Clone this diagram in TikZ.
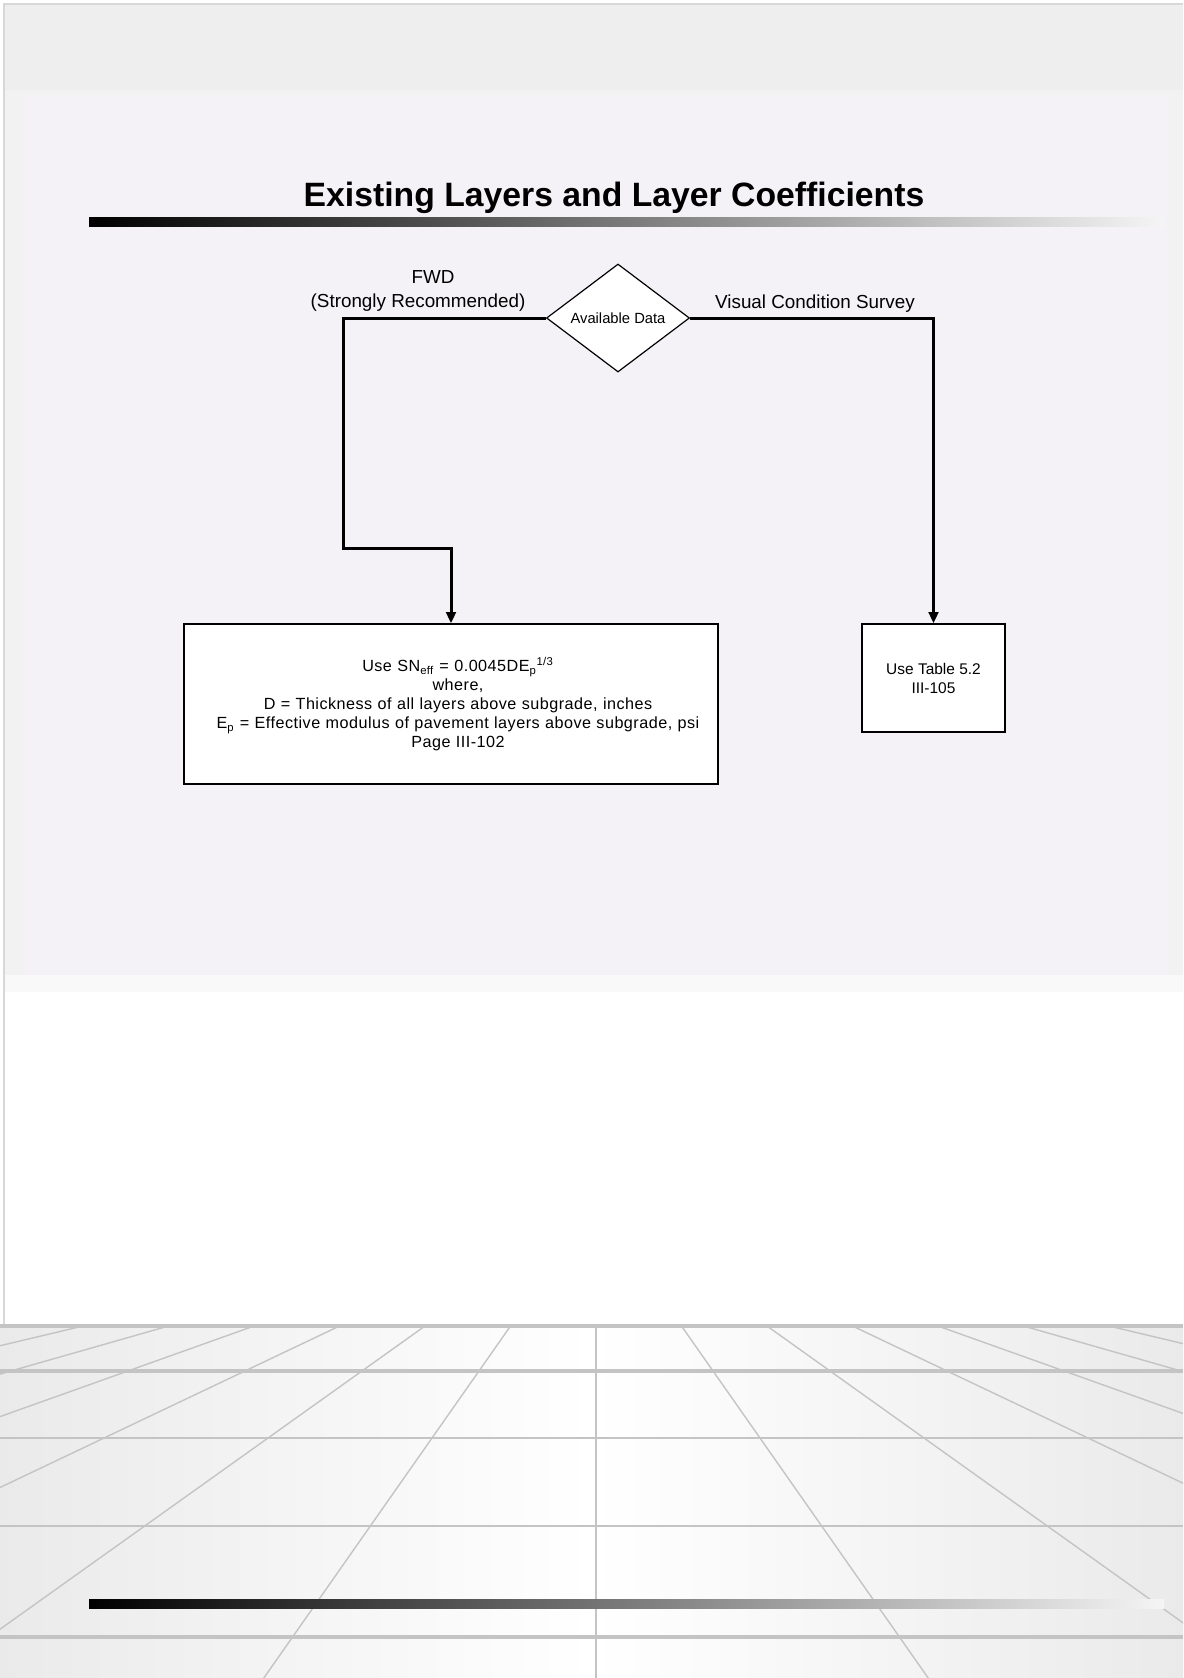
\documentclass[tikz,border=0pt]{standalone}
\usepackage{fontspec}
\setmainfont{Liberation Sans}
\usetikzlibrary{shapes.geometric,arrows.meta}

\definecolor{bandgray}{HTML}{EEEEEE}
\definecolor{edgegray}{HTML}{F2F2F2}
\definecolor{slidepink}{HTML}{F5F2F7}
\definecolor{fadepink}{HTML}{FAF9FA}
\definecolor{framegray}{HTML}{D8D8D8}
\definecolor{gridgray}{HTML}{C4C4C4}
\definecolor{floorgray}{HTML}{EAEAEA}

\tikzset{
  flowline/.style={line width=0.75mm, -{Triangle[length=2.8mm,width=2.4mm]}},
  procbox/.style={draw, fill=white, line width=0.35mm, inner sep=0pt},
  decision/.style={diamond, draw, fill=white, line width=0.3mm, inner sep=0pt,
    minimum width=35.75mm, minimum height=27mm, font=\fontsize{10.5}{12}\selectfont},
  lbl/.style={font=\fontsize{13.4}{16}\selectfont, inner sep=0pt},
  gridline/.style={gridgray, line width=0.35mm},
  rulebar/.style={left color=black, right color=white!96!black}
}

\begin{document}
\begin{tikzpicture}[x=0.25mm,y=-0.25mm]
    \useasboundingbox (0,0) rectangle (1183,1678);

    % Slide background
    \fill[white] (0,0) rectangle (1183,1678);
    \fill[bandgray] (5,5) rectangle (1183,90);
    \fill[edgegray] (5,90) rectangle (1183,975);
    \fill[slidepink] (24,97) rectangle (1167,975);
    \fill[fadepink] (5,975) rectangle (1183,992);
    \draw[framegray, line width=0.4mm] (4,1326) -- (4,4) -- (1183,4);

    % Tiled floor
    \shade[left color=floorgray, right color=floorgray, middle color=white] (0,1326) rectangle (1183,1678);
    \begin{scope}
      \clip (0,1326) rectangle (1183,1678);
      \foreach \k in {-8,...,8}
        \draw[gridline] ({596+\k*85.5},1326) -- ({596+\k*332.2},1678);
    \end{scope}
    \foreach \y/\w in {1326/0.8mm, 1371/0.8mm, 1438/0.5mm, 1526/0.5mm, 1637/0.8mm}
      \draw[gridgray, line width=\w] (0,\y) -- (1183,\y);

    % Title and rules
    \node[font=\fontsize{24}{28}\selectfont\bfseries, anchor=base, inner sep=0pt] (title) at (614,206) {Existing Layers and Layer Coefficients};
    \shade[rulebar] (89,217) rectangle (1164,226);
    \shade[rulebar] (89,1599) rectangle (1164,1608);

    % Decision and branch labels
    \node[decision] (avail) at (618,318) {Available Data};
    \node[lbl] (fwdlbl) at (433,277) {FWD};
    \node[lbl] (fwdnote) at (418,303) {(Strongly Recommended)};
    \node[lbl] (vcslbl) at (815,304) {Visual Condition Survey};

    % Result boxes
    \node[procbox, minimum width=133.5mm, minimum height=40mm] (effbox) at (451,704) {};
    \node[font=\fontsize{11.5}{13.5}\selectfont\addfontfeatures{LetterSpace=3}, align=center, text width=125mm, inner sep=0pt] (efftext) at (458,704) {%
Use SN\textsubscript{eff} = 0.0045DE\textsubscript{p}\textsuperscript{1/3}\\
where,\\
D = Thickness of all layers above subgrade, inches\\
E\textsubscript{p} = Effective modulus of pavement layers above subgrade, psi\\
Page III-102};
    \node[procbox, minimum width=35.75mm, minimum height=27mm, font=\fontsize{11}{13.5}\selectfont, align=center] (tblbox) at (933.5,678) {Use Table 5.2\\III-105};

    % Connectors
    \coordinate (fwdbend) at (343,548);
    \draw[flowline] (avail.west) -| (fwdbend) -| (effbox.north);
    \draw[flowline] (avail.east) -| (tblbox.north);
\end{tikzpicture}
\end{document}
